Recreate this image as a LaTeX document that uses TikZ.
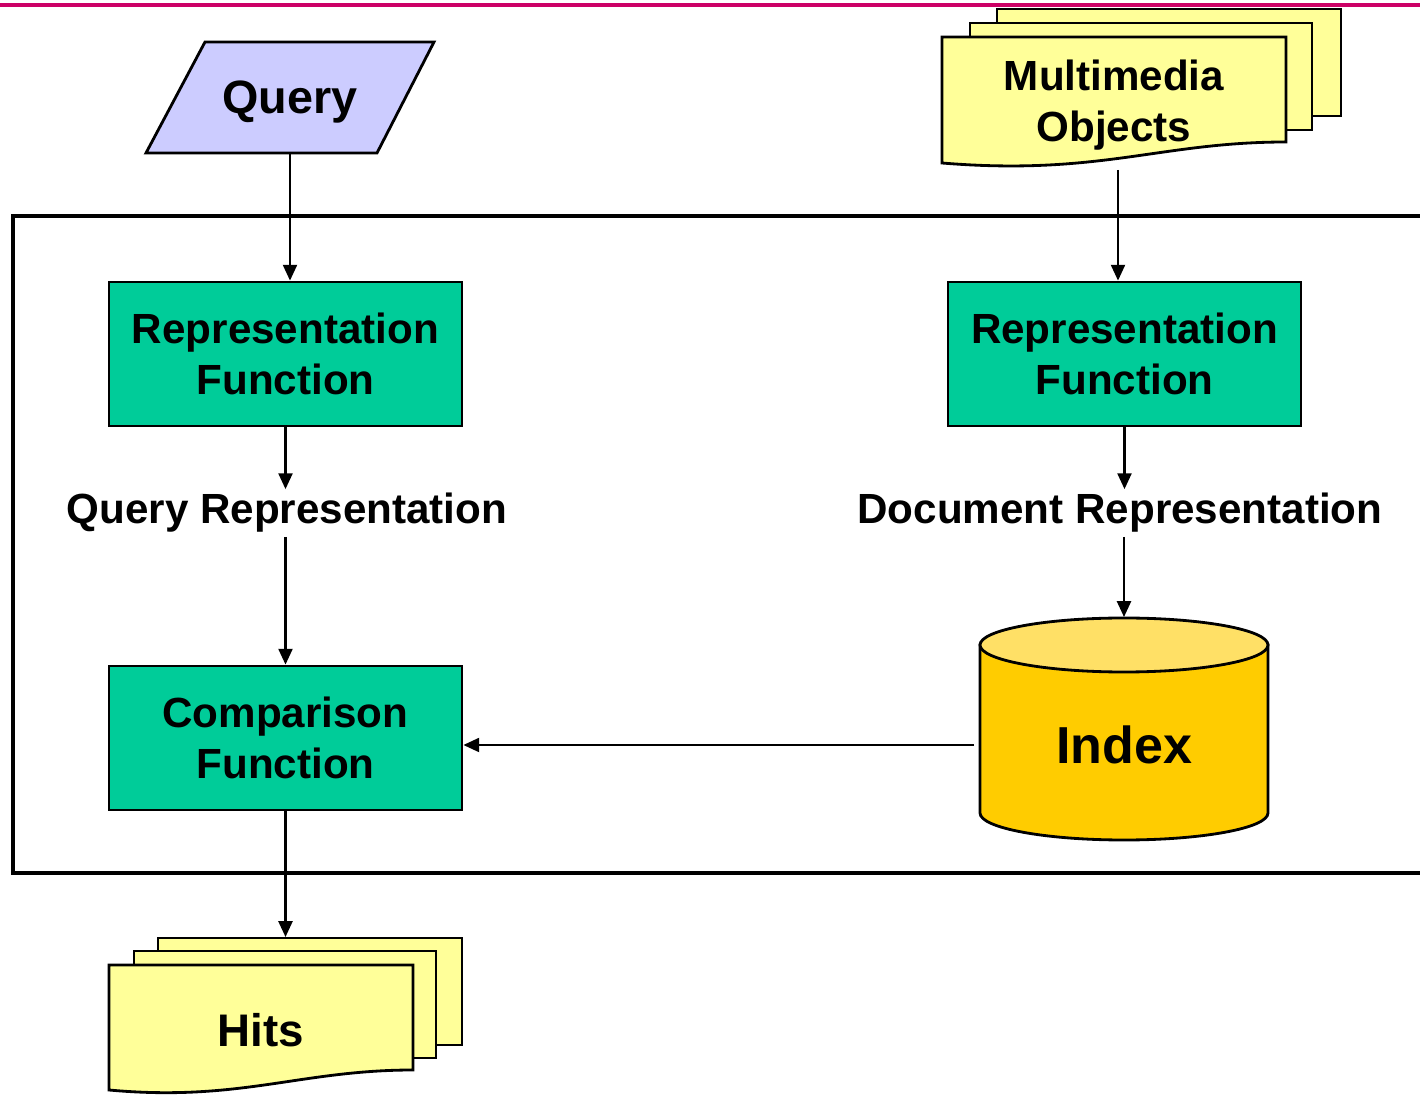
\documentclass[tikz,border=0pt]{standalone}
\usepackage{fontspec}
\setmainfont{Liberation Sans}
\usepackage{tikz}
\usetikzlibrary{arrows.meta, calc}
\definecolor{rule}{RGB}{204, 0, 102}
\definecolor{lavender}{RGB}{204, 204, 255}
\definecolor{paper}{RGB}{255, 255, 153}
\definecolor{func}{RGB}{0, 204, 153}
\definecolor{gold}{RGB}{255, 204, 0}
\definecolor{lightgold}{RGB}{255, 224, 102}
\tikzset{
  line/.style={line width=0.6pt, -{Triangle[length=4.5pt, width=4pt]}},
  funcbox/.style={draw, fill=func, line width=0.8pt, minimum width=3.53cm,
    minimum height=1.44cm, align=center, font=\fontsize{12}{14.5}\selectfont\bfseries},
  sheet/.style={draw=black, fill=paper, line width=0.8pt},
  label/.style={font=\fontsize{12}{14}\selectfont\bfseries, inner sep=1pt}
}
\begin{document}
\begin{tikzpicture}
  \useasboundingbox (0, 0) rectangle (14.2, -10.95);
  \draw[rule, line width=1.2pt] (0, -0.05) -- (14.2, -0.05);
  \draw[line width=1.4pt] (14.3, -2.16) -- (0.13, -2.16) -- (0.13, -8.73) -- (14.3, -8.73);

  % query
  \filldraw[fill=lavender, line width=0.8pt]
    (1.46, -1.53) -- (2.05, -0.42) -- (4.34, -0.42) -- (3.77, -1.53) -- cycle;
  \node[font=\fontsize{13.3}{16}\selectfont\bfseries] (query) at (2.90, -1.02) {Query};
  \coordinate (querybot) at (2.90, -1.53);

  % multimedia objects
  \filldraw[sheet] (9.97, -0.09) rectangle (13.41, -1.16);
  \filldraw[sheet] (9.70, -0.23) rectangle (13.12, -1.30);
  \filldraw[sheet] (9.42, -0.37) -- (12.86, -0.37) -- (12.86, -1.42)
    .. controls (11.6, -1.42) and (11.0, -1.76) .. (9.42, -1.63) -- cycle;
  \node[align=center, font=\fontsize{12}{14.5}\selectfont\bfseries] (media) at (11.14, -1.05)
    {Multimedia\\Objects};
  \coordinate (mediabot) at (11.18, -1.70);

  % left column
  \node[funcbox] (rf1) at (2.855, -3.54) {Representation\\Function};
  \node[label] (qrep) at (2.87, -5.13) {Query Representation};
  \node[funcbox] (cf) at (2.855, -7.38) {Comparison\\Function};

  % right column
  \node[funcbox] (rf2) at (11.245, -3.54) {Representation\\Function};
  \node[label] (drep) at (11.20, -5.13) {Document Representation};

  % index
  \filldraw[fill=gold, line width=0.8pt] (9.80, -6.45) -- (9.80, -8.13)
    arc (180:360:1.44 and 0.27) -- (12.68, -6.45) -- cycle;
  \filldraw[fill=lightgold, line width=0.8pt] (11.24, -6.45) ellipse (1.44 and 0.27);
  \node[font=\fontsize{14.8}{18}\selectfont\bfseries] (index) at (11.24, -7.45) {Index};
  \coordinate (indexleft) at (9.74, -7.45);
  \coordinate (indextop) at (11.24, -6.17);

  % hits
  \filldraw[sheet] (1.58, -9.38) rectangle (4.62, -10.45);
  \filldraw[sheet] (1.34, -9.51) rectangle (4.36, -10.58);
  \filldraw[sheet] (1.09, -9.65) -- (4.13, -9.65) -- (4.13, -10.70)
    .. controls (3.0, -10.70) and (2.4, -11.02) .. (1.09, -10.90) -- cycle;
  \node[font=\fontsize{13}{16}\selectfont\bfseries] (hits) at (2.61, -10.30) {Hits};
  \coordinate (hitstop) at (2.855, -9.37);

  % connectors
  \draw[line] (querybot) -- (querybot |- rf1.north);
  \draw[line] (rf1.south) -- (rf1.south |- qrep.north);
  \draw[line] (qrep.south -| cf.north) -- (cf.north);
  \draw[line] (cf.south) -- (hitstop);
  \draw[line] (mediabot) -- (mediabot |- rf2.north);
  \draw[line] (rf2.south) -- (rf2.south |- drep.north);
  \draw[line] (drep.south -| indextop) -- (indextop);
  \draw[line] (indexleft) -- (indexleft -| cf.east);
\end{tikzpicture}
\end{document}
